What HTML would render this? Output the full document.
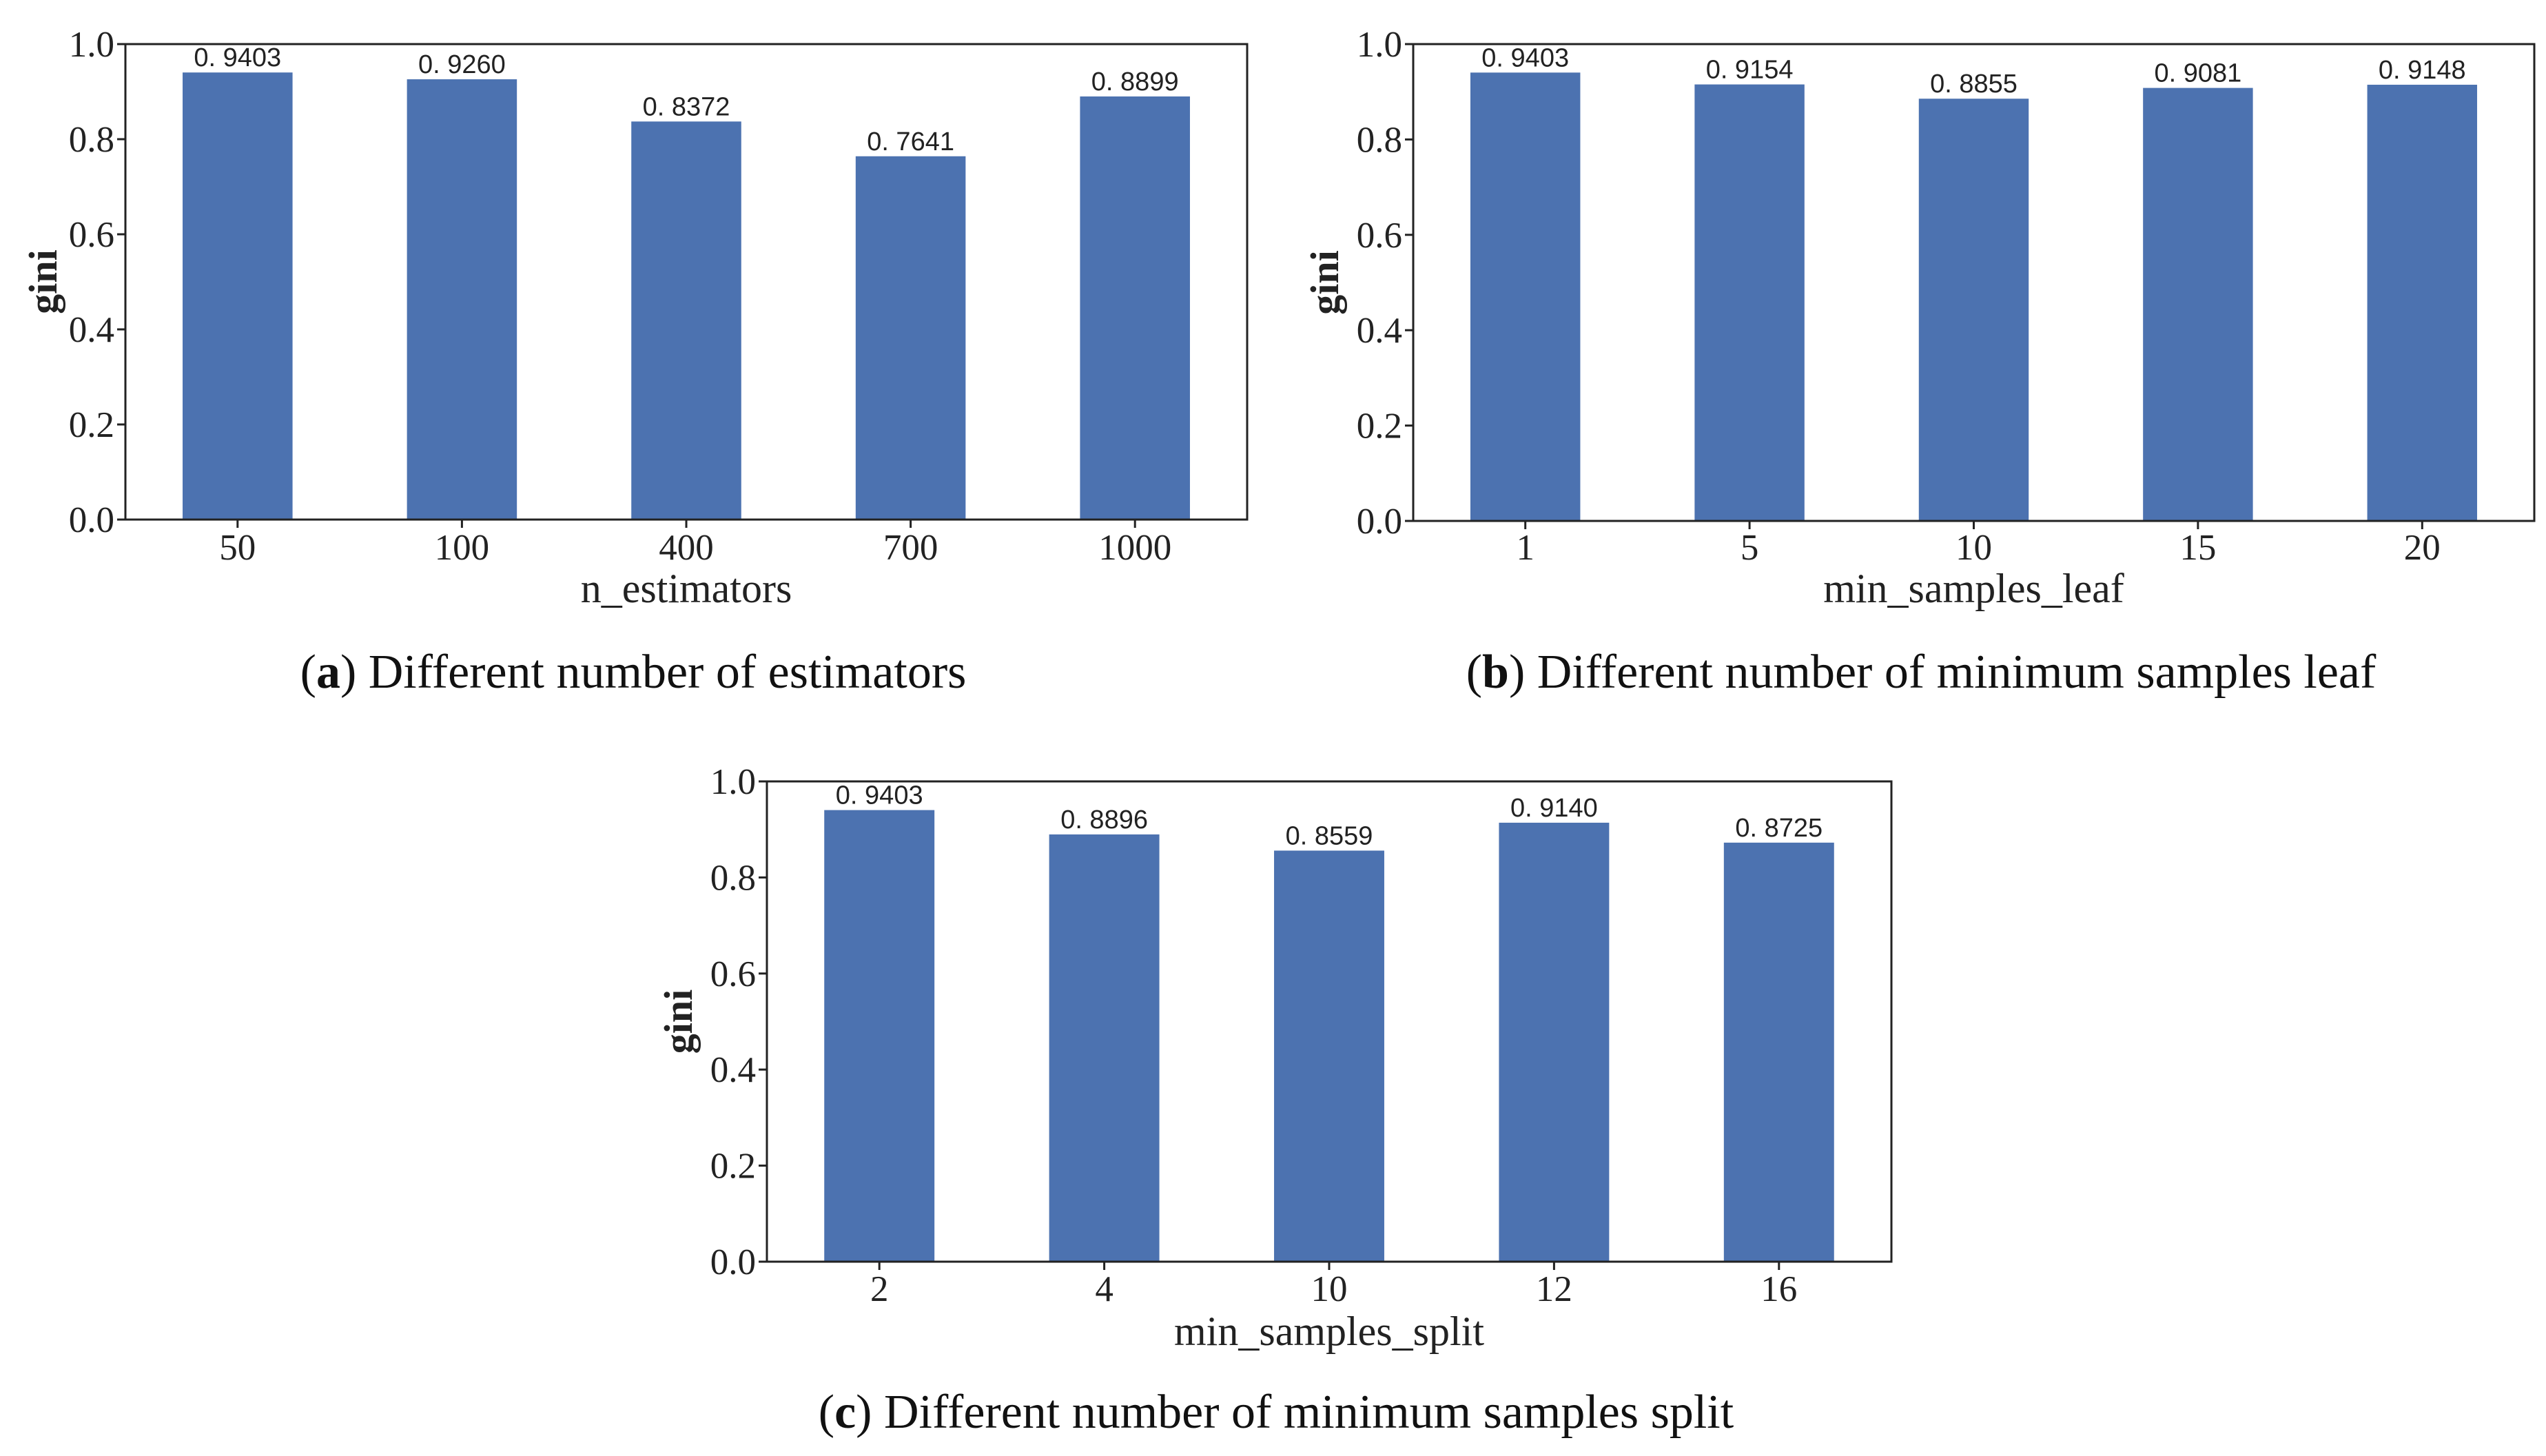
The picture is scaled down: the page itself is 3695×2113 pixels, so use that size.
<!DOCTYPE html>
<html><head><meta charset="utf-8"><style>
html,body{margin:0;padding:0;background:#fff;}
svg{display:block;}
.tick{font-family:"Liberation Serif",serif;font-size:53px;fill:#222;}
.lab{font-family:"Liberation Serif",serif;font-size:60px;fill:#222;}
.ylab{font-family:"Liberation Serif",serif;font-size:58px;fill:#222;font-weight:bold;}
.val{font-family:"Liberation Sans","Noto Sans CJK SC",sans-serif;font-size:38px;fill:#222;}
.cap{font-family:"Liberation Serif",serif;font-size:70px;fill:#111;}
</style></head><body>
<svg id="fig" width="3695" height="2113" viewBox="0 0 3695 2113" xmlns="http://www.w3.org/2000/svg"></svg>
<script>
const catsA = ["50","100","400","700","1000"];
const valsA = [0.9403,0.9260,0.8372,0.7641,0.8899];
const catsB = ["1","5","10","15","20"];
const valsB = [0.9403,0.9154,0.8855,0.9081,0.9148];
const catsC = ["2","4","10","12","16"];
const valsC = [0.9403,0.8896,0.8559,0.9140,0.8725];
const yTicks = [0.0,0.2,0.4,0.6,0.8,1.0];

const NS="http://www.w3.org/2000/svg";
const svg=document.getElementById('fig');
function mk(tag,attrs,parent){const e=document.createElementNS(NS,tag);for(const k in attrs)e.setAttribute(k,attrs[k]);(parent||svg).appendChild(e);return e;}

function panel(id,L,R,T,B,cats,vals,xlabel,capLetter,capText,ylabX,xtickY,xlabY,capX,capY){
  const g=mk('g',{});
  
  
  const n=cats.length;
  const xs=i=>L+(i+0.5)*(R-L)/n;
  const ys=v=>B-v*(B-T);
  const bw=(R-L)/n*0.49;
  cats.forEach((c,i)=>{
    const r=mk('rect',{x:xs(i)-bw/2,y:ys(vals[i]),width:bw,height:B-ys(vals[i]),fill:'#4c72b0'},g);
    
    
    const t=mk('text',{x:xs(i),y:ys(vals[i])-9,'text-anchor':'middle',class:'val'},g);
    t.textContent=vals[i].toFixed(4).replace('.', '. ');
    
    
    mk('line',{x1:xs(i),x2:xs(i),y1:B,y2:B+12,stroke:'#222','stroke-width':3},g);
    const xt=mk('text',{x:xs(i),y:xtickY,'text-anchor':'middle',class:'tick'},g);
    xt.textContent=c;
    
    
  });
  yTicks.forEach(v=>{
    mk('line',{x1:L-12,x2:L,y1:ys(v),y2:ys(v),stroke:'#222','stroke-width':3},g);
    const yt=mk('text',{x:L-16,y:ys(v)+18,'text-anchor':'end',class:'tick'},g);
    yt.textContent=v.toFixed(1);
    
    
  });
  const fr=mk('rect',{x:L,y:T,width:R-L,height:B-T,fill:'none',stroke:'#222','stroke-width':3},g);
  
  
  const yl=mk('text',{x:ylabX,y:(T+B)/2,'text-anchor':'middle',class:'ylab',transform:`rotate(-90 ${ylabX} ${(T+B)/2})`},g);
  yl.textContent='gini';
  
  
  const xl=mk('text',{x:(L+R)/2,y:xlabY,'text-anchor':'middle',class:'lab'},g);
  xl.textContent=xlabel;
  
  
  const cp=mk('text',{x:capX,y:capY,'text-anchor':'middle',class:'cap'},g);
  cp.innerHTML='(<tspan font-weight="bold">'+capLetter+'</tspan>) '+capText;
  
  
}
panel('a',182,1810,64,754,catsA,valsA,'n_estimators','a','Different number of estimators',82,812,874,919,998);
panel('b',2051,3678,64,756,catsB,valsB,'min_samples_leaf','b','Different number of minimum samples leaf',1942,812,874,2788,998);
panel('c',1113,2745,1134,1831,catsC,valsC,'min_samples_split','c','Different number of minimum samples split',1004,1888,1952,1852,2072);
</script>
</body></html>
